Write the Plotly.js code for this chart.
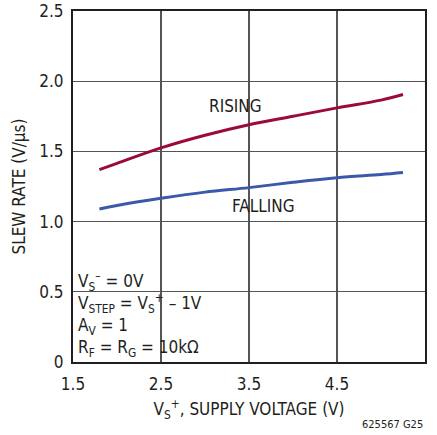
<!DOCTYPE html>
<html>
<head>
<meta charset="utf-8">
<script src="https://cdn.plot.ly/plotly-3.0.1.min.js"></script>
<style>
html,body{margin:0;padding:0;background:#fff;}
#chart{width:437px;height:435px;}
</style>
</head>
<body>
<div id="chart"></div>
<script>
const supplyV = [1.8, 2.0, 2.5, 3.0, 3.5, 4.0, 4.5, 5.0, 5.25];
const risingSR = [1.37, 1.415, 1.525, 1.615, 1.69, 1.75, 1.81, 1.865, 1.905];
const fallingSR = [1.09, 1.115, 1.166, 1.21, 1.242, 1.28, 1.313, 1.335, 1.349];
const xTicks = [1.5, 2.5, 3.5, 4.5, 5.5];
const xTickText = ['1.5', '2.5', '3.5', '4.5', '5.5'];
const yTicks = [0, 0.5, 1.0, 1.5, 2.0, 2.5];
const yTickText = ['0', '0.5', '1.0', '1.5', '2.0', '2.5'];

const FONT = '"Liberation Sans Narrow", "DejaVu Sans Condensed", "Roboto", sans-serif';

const traces = [
  {x: supplyV, y: risingSR, mode: 'lines', line: {color: '#9b0b37', width: 3, shape: 'spline'}, hoverinfo: 'skip'},
  {x: supplyV, y: fallingSR, mode: 'lines', line: {color: '#3a59a8', width: 3, shape: 'spline'}, hoverinfo: 'skip'}
];

const layout = {
  width: 437, height: 435,
  margin: {l: 73, r: 12, t: 10.5, b: 73},
  paper_bgcolor: '#fff', plot_bgcolor: '#fff',
  showlegend: false,
  font: {family: FONT, size: 16, color: '#231f20'},
  xaxis: {
    range: [1.5, 5.5], tickvals: xTicks, ticktext: xTickText,
    showgrid: true, gridcolor: '#555', gridwidth: 1.3,
    showline: true, linecolor: '#231f20', linewidth: 2, mirror: true,
    ticks: 'inside', ticklen: 4, tickcolor: '#555', tickwidth: 1.3,
    zeroline: false, ticklabelstandoff: 6,
    tickfont: {family: FONT, size: 17, color: '#231f20'},
    title: {text: 'V<sub>S</sub><sup>+</sup>, SUPPLY VOLTAGE (V)', font: {family: FONT, size: 17, color: '#231f20'}, standoff: 10}
  },
  yaxis: {
    range: [0, 2.5], tickvals: yTicks, ticktext: yTickText,
    showgrid: true, gridcolor: '#555', gridwidth: 1.3,
    showline: true, linecolor: '#231f20', linewidth: 2, mirror: true,
    ticks: 'inside', ticklen: 4, tickcolor: '#555', tickwidth: 1.3,
    zeroline: false, ticklabelstandoff: 4,
    tickfont: {family: FONT, size: 17, color: '#231f20'},
    title: {text: 'SLEW RATE (V/μs)', font: {family: FONT, size: 17, color: '#231f20'}, standoff: 9}
  },
  shapes: [
    {type: 'rect', xref: 'paper', yref: 'paper', x0: 0.004, x1: 0.403, y0: 0.006, y1: 0.262,
     fillcolor: '#fff', line: {width: 0}, layer: 'between'}
  ],
  annotations: [
    {x: 3.35, y: 1.82, xref: 'x', yref: 'y', text: 'RISING', showarrow: false, font: {family: FONT, size: 17, color: '#231f20'}},
    {x: 3.66, y: 1.11, xref: 'x', yref: 'y', text: 'FALLING', showarrow: false, font: {family: FONT, size: 17, color: '#231f20'}},
    {x: 0.004, y: -0.005, xref: 'paper', yref: 'paper', xanchor: 'left', yanchor: 'bottom', align: 'left',
     borderpad: 3,
     text: 'V<sub>S</sub><sup>–</sup> = 0V<br>V<sub>STEP</sub> = V<sub>S</sub><sup>+</sup> – 1V<br>A<sub>V</sub> = 1<br>R<sub>F</sub> = R<sub>G</sub> = 10kΩ',
     showarrow: false, font: {family: FONT, size: 17, color: '#231f20'}},
    {x: 1, y: -0.179, xref: 'paper', yref: 'paper', xanchor: 'right', yanchor: 'middle',
     text: '625567 G25', showarrow: false, font: {family: FONT, size: 11, color: '#231f20'}}
  ]
};

Plotly.newPlot('chart', traces, layout, {staticPlot: true, displayModeBar: false});
</script>
</body>
</html>
